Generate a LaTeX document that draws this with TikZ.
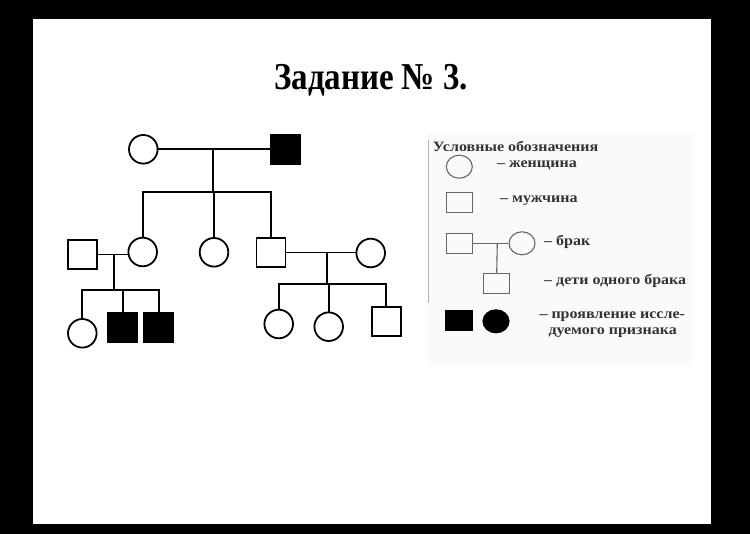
\documentclass[tikz,border=0pt]{standalone}
\usepackage{fontspec}
\setmainfont{Liberation Serif}
\usetikzlibrary{shapes.geometric}
\newcommand\lgtxt[1]{\scalebox{1.12}[1]{#1}}
\begin{document}
\begin{tikzpicture}[x=1pt,y=-1pt,
  lw/.style={line width=1.8pt},
  fem/.style={circle,draw,lw,minimum size=28.6pt,inner sep=0pt,fill=white},
  mal/.style={rectangle,draw,lw,minimum size=29pt,inner sep=0pt,fill=white},
  aff/.style={fill=black},
  conn/.style={lw,line cap=rect},
  lg/.style={draw=black!60,line width=1.1pt,inner sep=0pt},
  lgc/.style={ellipse,lg,minimum width=26pt,minimum height=23pt},
  lgs/.style={rectangle,lg,minimum width=26pt,minimum height=20pt},
  lt/.style={anchor=west,inner sep=0pt,text=black!80,font=\fontsize{14.3}{16}\selectfont\bfseries}
]
\useasboundingbox (0,0) rectangle (750,534);
\fill[black] (0,0) rectangle (750,534);
\fill[white] (33,19) rectangle (711,524);
% legend background
\fill[black!2] (428,133) rectangle (692,367);
\draw[black!30,line width=0.8pt] (428,140) -- (428,303);

% title
\node[anchor=base,inner sep=0pt,font=\fontsize{38}{40}\selectfont\bfseries] (title) at (371,89.3) {\scalebox{0.866}[1]{Задание № 3.}};

% generation I
\node[fem] (a1) at (143.3,149.3) {};
\node[mal,aff] (a2) at (285.7,149.3) {};
% generation II
\node[mal] (b0) at (82.5,254.5) {};
\node[fem] (b1) at (142.7,252) {};
\node[fem] (b2) at (214,252.3) {};
\node[mal] (b3) at (271,252.5) {};
\node[fem] (b4) at (370.7,253) {};
% generation III
\node[fem] (c1) at (82.3,333.3) {};
\node[mal,aff] (c2) at (122.8,327.3) {};
\node[mal,aff] (c3) at (158.7,327.3) {};
\node[fem] (c4) at (278.7,324) {};
\node[fem] (c5) at (328.7,326.7) {};
\node[mal] (c6) at (386.2,321.3) {};

\coordinate (m1) at (213.3,149.3);
\coordinate (s1) at (213.3,191.7);
\coordinate (m2) at (114,254.5);
\coordinate (s2) at (114,290);
\coordinate (m3) at (327.3,252.5);
\coordinate (s3) at (327.3,284);

\draw[conn] (a1.east) -- (a2.west);
\draw[conn] (m1) -- (s1);
\draw[conn] (s1 -| b1) -- (s1 -| b3);
\draw[conn] (s1 -| b1) -- (b1.north);
\draw[conn] (s1 -| b2) -- (b2.north);
\draw[conn] (s1 -| b3) -- (b3.north);

\draw[conn] (b0.east) -- (b0.east -| b1.west);
\draw[conn] (m2) -- (s2);
\draw[conn] (s2 -| c1) -- (s2 -| c3);
\draw[conn] (s2 -| c1) -- (c1.north);
\draw[conn] (s2 -| c2) -- (c2.north);
\draw[conn] (s2 -| c3) -- (c3.north);

\draw[conn] (b3.east) -- (b3.east -| b4.west);
\draw[conn] (m3) -- (s3);
\draw[conn] (s3 -| c4) -- (s3 -| c6);
\draw[conn] (s3 -| c4) -- (c4.north);
\draw[conn] (s3 -| c5) -- (c5.north);
\draw[conn] (s3 -| c6) -- (c6.north);

% legend
\node[lt] (lhead) at (432.7,146) {\lgtxt{Условные обозначения}};
\node[lgc] (lf) at (459.3,166.7) {};
\node[lt] (lft) at (497,165) {\lgtxt{– женщина}};
\node[lgs] (lm) at (459.2,202.7) {};
\node[lt] (lmt) at (500,201) {\lgtxt{– мужчина}};
\node[lgs] (lbm) at (459.2,243.3) {};
\node[lgc] (lbf) at (522,243.3) {};
\node[lt] (lbt) at (544,241.7) {\lgtxt{– брак}};
\coordinate (lmid) at (497.3,243.3);
\node[lgs] (lch) at (496.7,283.3) {};
\node[lt] (lcht) at (544,281) {\lgtxt{– дети одного брака}};
\node[lgs,fill=black,draw=black] (lam) at (459,320.7) {};
\node[lgc,fill=black,draw=black] (laf) at (496,321.3) {};
\node[lt] (lat1) at (539.3,316.2) {\lgtxt{– проявление иссле-}};
\node[lt] (lat2) at (548.3,332.8) {\lgtxt{дуемого признака}};
\draw[black!60,line width=1.1pt] (lbm.east) -- (lbf.west);
\draw[black!60,line width=1.1pt] (lmid) -- (lch.north);
\end{tikzpicture}
\end{document}
